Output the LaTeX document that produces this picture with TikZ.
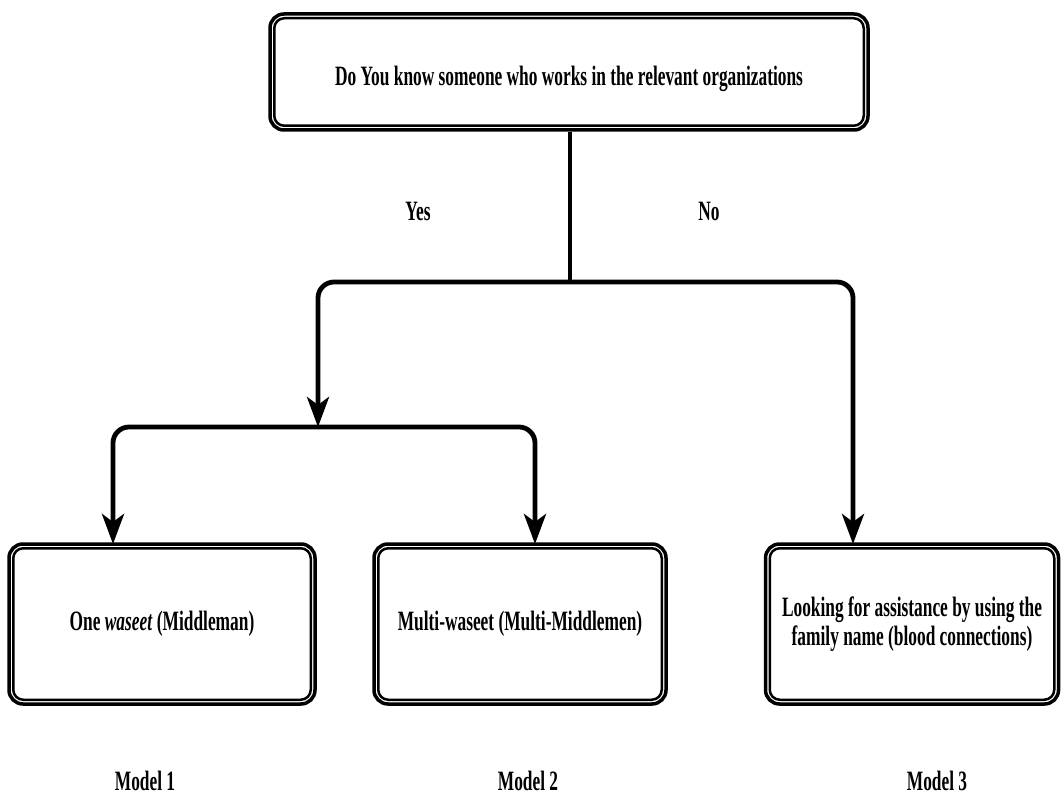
\documentclass[tikz,border=0pt]{standalone}
\usepackage{fontspec}
\setmainfont{Liberation Serif}[FakeStretch=0.62]
\usetikzlibrary{arrows.meta}
\tikzset{
  box/.style={draw, line width=3.5pt, rounded corners=14pt, align=center, inner sep=0pt,
    font=\fontsize{28}{29}\selectfont\bfseries},
  lbl/.style={font=\fontsize{28}{29}\selectfont\bfseries, inner sep=0pt},
  conn/.style={line width=4.8pt, rounded corners=16pt},
  arr/.style={conn, -{Stealth[length=30pt,width=22pt,inset=8pt]}},
}
\newcommand{\innerframe}[1]{\draw[line width=2.5pt, rounded corners=10pt]
  ([xshift=6pt,yshift=-6pt]#1.north west) rectangle ([xshift=-6pt,yshift=6pt]#1.south east);}
\begin{document}
\begin{tikzpicture}[x=1pt,y=-1pt]
\useasboundingbox (0,0) rectangle (1064,799);
\node[box, minimum width=598pt, minimum height=116pt] (top) at (569,72)
  {\raisebox{-7pt}[\height][\depth]{Do You know someone who works in the relevant organizations}};
\innerframe{top}
\node[box, minimum width=306pt, minimum height=160pt] (b1) at (162,624)
  {One \textit{waseet} (Middleman)};
\innerframe{b1}
\node[box, minimum width=292pt, minimum height=160pt] (b2) at (520,624)
  {Multi-waseet (Multi-Middlemen)};
\innerframe{b2}
\node[box, minimum width=293pt, minimum height=160pt] (b3) at (912,624)
  {Looking for assistance by using the\\family name (blood connections)};
\innerframe{b3}

\node[lbl] (yes) at (418,211) {Yes};
\node[lbl] (no) at (709,211) {No};
\node[lbl] (m1) at (145,781) {Model 1};
\node[lbl] (m2) at (528,781) {Model 2};
\node[lbl] (m3) at (937,781) {Model 3};

\coordinate (j1) at (570,282);
\coordinate (j2) at (318,427);
\coordinate (t1) at (113,544);
\coordinate (t2) at (535,544);
\coordinate (t3) at (853,544);

\draw[conn] (top.south -| j1) -- (j1);
\draw[arr] (j1) -| (j2);
\draw[arr] (j1) -| (t3);
\draw[arr] (j2) -| (t1);
\draw[arr] (j2) -| (t2);
\end{tikzpicture}
\end{document}
